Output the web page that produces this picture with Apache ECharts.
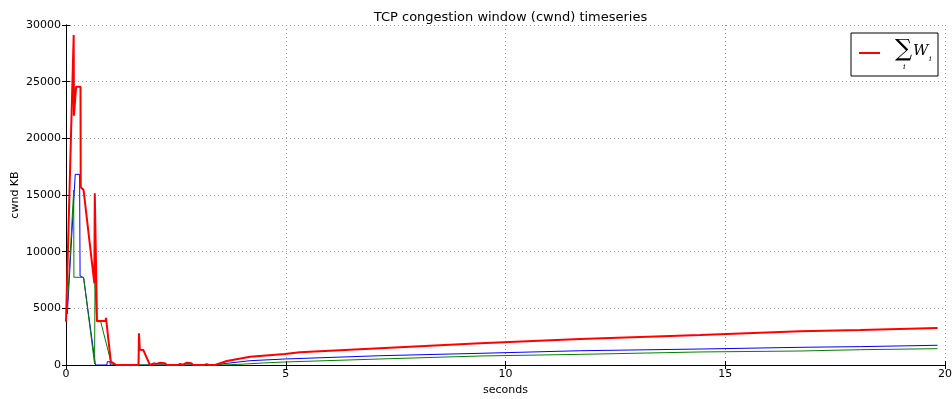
<!DOCTYPE html>
<html>
<head>
<meta charset="utf-8">
<script src="https://cdn.jsdelivr.net/npm/echarts@6/dist/echarts.min.js"></script>
<style>html,body{margin:0;padding:0;background:#fff}#c{width:952px;height:399px}</style>
</head>
<body>
<div id="c"></div>
<script>
const titleText = 'TCP congestion window (cwnd) timeseries';
const xTicks = [0, 5, 10, 15, 20];
const yTicks = [0, 5000, 10000, 15000, 20000, 25000, 30000];

const redT = [0, 0.175, 0.18, 0.23, 0.33, 0.335, 0.40, 0.645, 0.655, 0.705, 0.90, 0.91, 1.02, 1.15, 1.65, 1.66, 1.68, 1.76, 1.91, 2.0, 2.05, 2.15, 2.25, 2.3, 2.55, 2.6, 2.65, 2.75, 2.85, 2.9, 3.15, 3.2, 3.25, 3.39, 3.66, 4.19, 4.98, 5.32, 7.14, 9.42, 11.7, 14.43, 16.7, 18.07, 19.83];
const redW = [3820, 29120, 22000, 24560, 24560, 15680, 15440, 7200, 15150, 3880, 3880, 4150, 300, 0, 0, 2790, 1350, 1320, 0, 150, 100, 200, 150, 0, 0, 100, 0, 200, 150, 0, 0, 80, 0, 0, 350, 735, 970, 1120, 1470, 1910, 2290, 2650, 2970, 3080, 3260];

const blueT = [0.03, 0.21, 0.31, 0.32, 0.40, 0.67, 0.93, 0.94, 1.0, 1.01, 3.39, 3.66, 4.19, 4.98, 7.14, 9.42, 11.7, 14.43, 16.7, 18.07, 19.83];
const blueW = [4500, 16820, 16820, 7850, 7700, 0, 0, 290, 290, 0, 0, 150, 380, 530, 820, 1030, 1260, 1410, 1560, 1620, 1740];

const greenT = [0.02, 0.175, 0.18, 0.40, 0.65, 0.66, 0.70, 0.79, 1.03, 1.1, 3.5, 3.9, 4.5, 4.98, 7.14, 9.42, 11.7, 14.43, 16.7, 18.07, 19.83];
const greenW = [4500, 15440, 7740, 7740, 100, 7200, 3820, 3820, 150, 0, 0, 50, 180, 265, 530, 795, 940, 1150, 1235, 1350, 1440];

const zip = (t, w) => t.map((v, i) => [v, w[i]]);
const font = 'DejaVu Sans';
const chart = echarts.init(document.getElementById('c'), null, {renderer: 'canvas'});
const L = 66, R = 945, T = 25, B = 365;
const frame = {show: true, lineStyle: {color: '#000', width: 1}};
const tickIn = {show: true, inside: true, length: 4, lineStyle: {color: '#000'}};
const xBase = {type: 'value', min: xTicks[0], max: xTicks[xTicks.length - 1], interval: 5, axisLine: frame, axisTick: tickIn};
const yBase = {type: 'value', min: yTicks[0], max: yTicks[yTicks.length - 1], interval: 5000, axisLine: frame, axisTick: tickIn};
chart.setOption({
  animation: false,
  backgroundColor: '#fff',
  title: {text: titleText, left: (L + R) / 2, textAlign: 'center', top: 6,
    textStyle: {fontFamily: font, fontSize: 13, fontWeight: 'normal', color: '#000'}},
  grid: {left: L, right: 952 - R, top: T, bottom: 399 - B, containLabel: false, outerBoundsMode: 'none'},
  xAxis: [
    Object.assign({}, xBase, {position: 'bottom', name: 'seconds', nameLocation: 'middle', nameGap: 20, nameMoveOverlap: false,
      nameTextStyle: {fontFamily: font, fontSize: 11, color: '#000'},
      axisLabel: {fontFamily: font, fontSize: 11, color: '#000', margin: 4, formatter: v => String(v)},
      splitLine: {show: true, lineStyle: {color: '#999', type: [1, 3], width: 1}}}),
    Object.assign({}, xBase, {position: 'top', axisLabel: {show: false}, splitLine: {show: false}})
  ],
  yAxis: [
    Object.assign({}, yBase, {position: 'left', name: 'cwnd KB', nameLocation: 'middle', nameGap: 45, nameMoveOverlap: false,
      nameTextStyle: {fontFamily: font, fontSize: 11, color: '#000'},
      axisLabel: {fontFamily: font, fontSize: 11, color: '#000', margin: 5, formatter: v => String(v)},
      splitLine: {show: true, lineStyle: {color: '#999', type: [1, 3], width: 1}}}),
    Object.assign({}, yBase, {position: 'right', axisLabel: {show: false}, splitLine: {show: false}})
  ],
  series: [
    {type: 'line', name: 'blue', data: zip(blueT, blueW), showSymbol: false, lineStyle: {color: '#0000ff', width: 1}, z: 3},
    {type: 'line', name: 'green', data: zip(greenT, greenW), showSymbol: false, lineStyle: {color: '#008000', width: 1}, z: 3},
    {type: 'line', name: 'sum', data: zip(redT, redW), showSymbol: false, lineStyle: {color: '#ff0000', width: 2}, z: 4}
  ],
  graphic: [
    {type: 'rect', shape: {x: 851, y: 33, width: 87, height: 43}, style: {fill: '#fff', stroke: '#000', lineWidth: 1}, z: 100},
    {type: 'line', shape: {x1: 859, y1: 53, x2: 880, y2: 53}, style: {stroke: '#ff0000', lineWidth: 2}, z: 101},
    {type: 'text', x: 895, y: 38, style: {text: '∑', font: '24px "DejaVu Serif"', fill: '#000'}, z: 101},
    {type: 'text', x: 903, y: 63, style: {text: 'i', font: 'italic 8px "DejaVu Serif"', fill: '#000'}, z: 101},
    {type: 'text', x: 913, y: 44, style: {text: 'W', font: 'italic 15px "DejaVu Serif"', fill: '#000'}, z: 101},
    {type: 'text', x: 929, y: 55, style: {text: 'i', font: 'italic 8px "DejaVu Serif"', fill: '#000'}, z: 101}
  ]
});
</script>
</body>
</html>
